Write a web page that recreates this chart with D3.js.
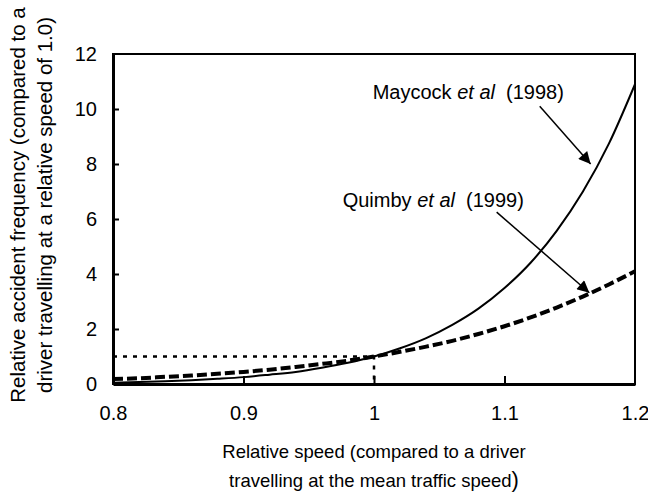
<!DOCTYPE html>
<html>
<head>
<meta charset="utf-8">
<script src="https://cdn.jsdelivr.net/npm/d3@7"></script>
<style>
  body { margin: 0; background: #fff; }
  svg text { font-family: Arial, "Liberation Sans", sans-serif; fill: #000; }
</style>
</head>
<body>
<div id="chart"></div>
<script>
// relative speed values (x)
const speeds = [0.80, 0.82, 0.84, 0.86, 0.88, 0.90, 0.92, 0.94, 0.96, 0.98, 1.00,
                1.02, 1.04, 1.06, 1.08, 1.10, 1.12, 1.14, 1.16, 1.18, 1.20];

// Maycock et al (1998)
const maycock = [0.05, 0.07, 0.10, 0.14, 0.19, 0.25, 0.34, 0.44, 0.59, 0.77, 1.00,
                 1.30, 1.67, 2.15, 2.74, 3.49, 4.41, 5.57, 6.99, 8.74, 10.9];

// Quimby et al (1999)
const quimby = [0.18, 0.21, 0.26, 0.31, 0.37, 0.44, 0.52, 0.62, 0.73, 0.85, 1.00,
                1.17, 1.36, 1.57, 1.82, 2.10, 2.42, 2.78, 3.18, 3.62, 4.10];

const xTicks = [0.8, 0.9, 1, 1.1, 1.2];
const yTicks = [0, 2, 4, 6, 8, 10, 12];

// reference point: relative speed 1.0 -> frequency 1.0
const refPoint = [1.0, 1.0];

// annotations (data units): label anchor, arrow start, arrow end
const labels = [
    {name: 'Maycock', year: '(1998)', lx: 0.999, ly: 10.35, x1: 1.127, y1: 10.1, x2: 1.166, y2: 8.0},
    {name: 'Quimby', year: '(1999)', lx: 0.976, ly: 6.45, x1: 1.094, y1: 6.25, x2: 1.165, y2: 3.32}
];

const W = 648, H = 496;
const margin = {top: 54, right: 13, bottom: 112, left: 113};
const width = W - margin.left - margin.right;
const height = H - margin.top - margin.bottom;

const svg = d3.select('#chart').append('svg')
    .attr('width', W)
    .attr('height', H);

const defs = svg.append('defs');
defs.append('marker')
    .attr('id', 'arrow')
    .attr('viewBox', '0 0 10 10')
    .attr('refX', 10)
    .attr('refY', 5)
    .attr('markerWidth', 18)
    .attr('markerHeight', 12)
    .attr('markerUnits', 'userSpaceOnUse')
    .attr('orient', 'auto')
    .append('path')
    .attr('d', 'M0,0 L10,5 L0,10 Z')
    .attr('fill', '#000');

const chart = svg.append('g')
    .attr('transform', `translate(${margin.left},${margin.top})`);

const x = d3.scaleLinear().domain([0.8, 1.2]).range([0, width]);
const y = d3.scaleLinear().domain([0, 12]).range([height, 0]);

// frame
chart.append('rect')
    .attr('x', 0).attr('y', 0)
    .attr('width', width).attr('height', height)
    .attr('fill', 'none')
    .attr('stroke', '#000')
    .attr('stroke-width', 2);

// axes (ticks pointing inward)
const xAxis = d3.axisBottom(x)
    .tickValues(xTicks)
    .tickSize(-8)
    .tickSizeOuter(0)
    .tickPadding(22)
    .tickFormat(d => d3.format('')(d));

const yAxis = d3.axisLeft(y)
    .tickValues(yTicks)
    .tickSize(-6)
    .tickSizeOuter(0)
    .tickPadding(16);

const xg = chart.append('g')
    .attr('transform', `translate(0,${height})`)
    .call(xAxis);
const yg = chart.append('g').call(yAxis);

[xg, yg].forEach(g => {
    g.select('.domain').attr('stroke', '#000').attr('stroke-width', 3);
    g.selectAll('.tick line').attr('stroke', '#000').attr('stroke-width', 2);
    g.selectAll('.tick text')
        .attr('font-size', 20)
        .attr('font-family', 'Arial, "Liberation Sans", sans-serif');
});
// remove end ticks sitting on the frame
xg.selectAll('.tick line').filter(d => d === 0.8 || d === 1.2).remove();
yg.selectAll('.tick line').filter(d => d === 0 || d === 12).remove();

// dotted reference lines
chart.append('path')
    .attr('d', d3.line()([[x(0.8), y(refPoint[1])], [x(refPoint[0]), y(refPoint[1])], [x(refPoint[0]), y(0)]]))
    .attr('fill', 'none')
    .attr('stroke', '#000')
    .attr('stroke-width', 2.5)
    .attr('stroke-dasharray', '4,6');

const line = d3.line()
    .x((d, i) => x(speeds[i]))
    .y(d => y(d))
    .curve(d3.curveMonotoneX);

chart.append('path')
    .datum(quimby)
    .attr('d', line)
    .attr('fill', 'none')
    .attr('stroke', '#000')
    .attr('stroke-width', 4)
    .attr('stroke-dasharray', '10,4');

chart.append('path')
    .datum(maycock)
    .attr('d', line)
    .attr('fill', 'none')
    .attr('stroke', '#000')
    .attr('stroke-width', 2);

// annotation labels and arrows
labels.forEach(a => {
    const t = chart.append('text')
        .attr('x', x(a.lx))
        .attr('y', y(a.ly))
        .attr('font-size', 20)
        .style('white-space', 'pre');
    t.append('tspan').text(a.name + ' ');
    t.append('tspan').attr('font-style', 'italic').text('et al');
    t.append('tspan').text('  ' + a.year);

    chart.append('line')
        .attr('x1', x(a.x1)).attr('y1', y(a.y1))
        .attr('x2', x(a.x2)).attr('y2', y(a.y2))
        .attr('stroke', '#000')
        .attr('stroke-width', 1.5)
        .attr('marker-end', 'url(#arrow)');
});

// axis titles
const xt = svg.append('text')
    .attr('x', margin.left + width / 2)
    .attr('y', 458)
    .attr('text-anchor', 'middle')
    .attr('font-size', 18.5);
xt.append('tspan').attr('x', margin.left + width / 2).text('Relative speed (compared to a driver');
const xl2 = xt.append('tspan').attr('x', margin.left + width / 2).attr('dy', 29);
xl2.append('tspan').text('travelling at the mean traffic speed');
xl2.append('tspan').attr('font-size', 22).text(')');

const yt = svg.append('text')
    .attr('transform', `translate(25,${margin.top + height / 2 - 14}) rotate(-90)`)
    .attr('text-anchor', 'middle')
    .attr('font-size', 20.5);
yt.append('tspan').attr('x', 0).text('Relative accident frequency (compared to a');
yt.append('tspan').attr('x', 0).attr('dy', 27).text('driver travelling at a relative speed of 1.0)');
</script>
</body>
</html>
